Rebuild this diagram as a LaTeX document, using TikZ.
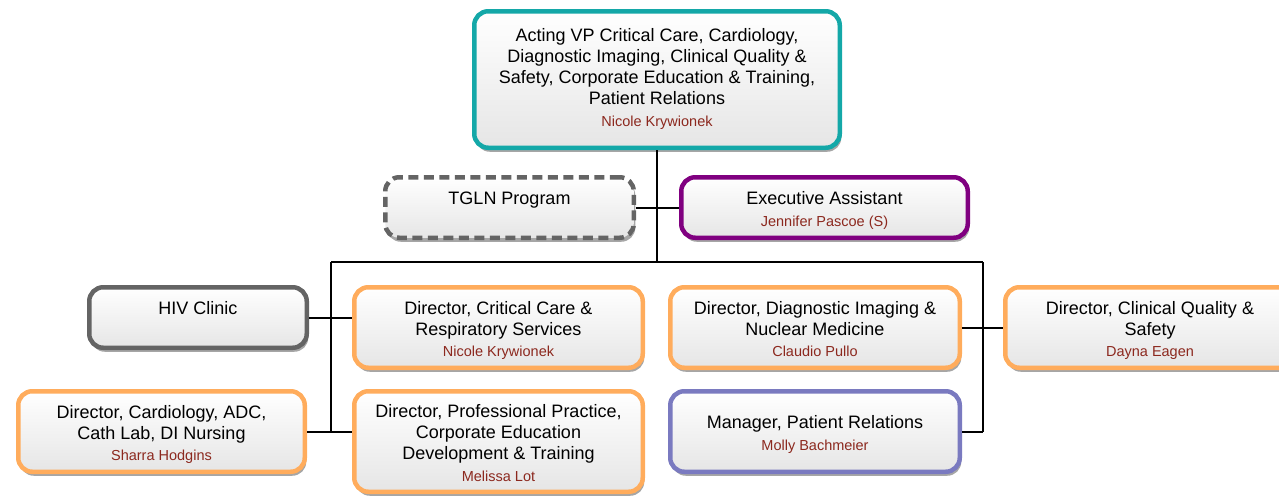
\documentclass[tikz,border=0pt]{standalone}
\usepackage{fontspec}
\setmainfont{Liberation Sans}
\usetikzlibrary{shadows}

\definecolor{tealline}{RGB}{20,168,168}
\definecolor{violetline}{RGB}{128,0,128}
\definecolor{orangeline}{RGB}{255,172,92}
\definecolor{blueline}{RGB}{122,122,192}
\definecolor{greyline}{RGB}{100,100,100}
\definecolor{namered}{RGB}{140,40,30}

% name of the person under the title
\newcommand{\person}[1]{\\[0.5pt]{\fontsize{14.5}{15}\selectfont\color{namered}\strut#1}}
% some room above the first line
\newcommand{\lift}{\rule{0pt}{20pt}}

\tikzset{
	unit/.style = {draw, line width=4.5pt, rounded corners=14pt,
		top color=white, bottom color=black!10,
		drop shadow={shadow xshift=1.5pt, shadow yshift=-4pt, fill=black!35, opacity=1},
		align=center, inner sep=0pt,
		font=\fontsize{18}{21}\selectfont},
	link/.style = {draw, line width=2pt}
}

\begin{document}
\begin{tikzpicture}[x=1pt, y=1pt]
			\useasboundingbox (0, 0) rectangle (1279, -501);
			% boxes
			\node [unit, draw=tealline, minimum width=365.5, minimum height=136.5] (vp) at (657, -79.5)
				{Acting VP Critical Care, Cardiology,\\ Diagnostic Imaging, Clinical Quality \&\\ Safety, Corporate Education \& Training,\\ Patient Relations\person{Nicole Krywionek}};
			\node [unit, draw=greyline, dash pattern=on 10pt off 5.5pt, minimum width=248.5, minimum height=60.5] (tgln) at (509.5, -207.5)
				{\lift TGLN Program\person{}};
			\node [unit, draw=violetline, minimum width=286.5, minimum height=60.5] (assistant) at (824.5, -207.5)
				{\lift Executive Assistant\person{Jennifer Pascoe (S)}};
			\node [unit, draw=greyline, minimum width=217.5, minimum height=60.5] (hiv) at (198, -317.5)
				{\lift HIV Clinic\person{}};
			\node [unit, draw=orangeline, minimum width=288.5, minimum height=80.5] (critical) at (498.5, -327.5)
				{\lift Director, Critical Care \&\\ Respiratory Services\person{Nicole Krywionek}};
			\node [unit, draw=orangeline, minimum width=289.5, minimum height=80.5] (imaging) at (815, -327.5)
				{\lift Director, Diagnostic Imaging \&\\ Nuclear Medicine\person{Claudio Pullo}};
			\node [unit, draw=orangeline, minimum width=289.5, minimum height=80.5] (quality) at (1150, -327.5)
				{\lift Director, Clinical Quality \&\\ Safety\person{Dayna Eagen}};
			\node [unit, draw=orangeline, minimum width=286.5, minimum height=80.5] (cardio) at (161.5, -431.5)
				{\lift Director, Cardiology, ADC,\\ Cath Lab, DI Nursing\person{Sharra Hodgins}};
			\node [unit, draw=orangeline, minimum width=288.5, minimum height=100.5] (practice) at (498.5, -441.5)
				{\lift Director, Professional Practice,\\ Corporate Education\\ Development \& Training\person{Melissa Lot}};
			\node [unit, draw=blueline, minimum width=289.5, minimum height=80.5] (relations) at (815, -431.5)
				{\lift Manager, Patient Relations\person{Molly Bachmeier}};

			% lines
			\coordinate (hub) at (657, -262);
			\coordinate (left) at (331, -262);
			\coordinate (right) at (983, -262);
			\draw [link] (vp.south) -- (hub);
			\draw [link] (tgln.east) -- (assistant.west);
			\draw [link] (left) -- (right);
			\draw [link] (left) -- (left |- cardio.east);
			\draw [link] (right) -- (right |- relations.east);
			\draw [link] (hiv.east) -- (hiv.east -| critical.west);
			\draw [link] (cardio.east) -- (cardio.east -| practice.west);
			\draw [link] (imaging.east) -- (quality.west);
			\draw [link] (relations.east) -- (right |- relations.east);
		\end{tikzpicture}
\end{document}
